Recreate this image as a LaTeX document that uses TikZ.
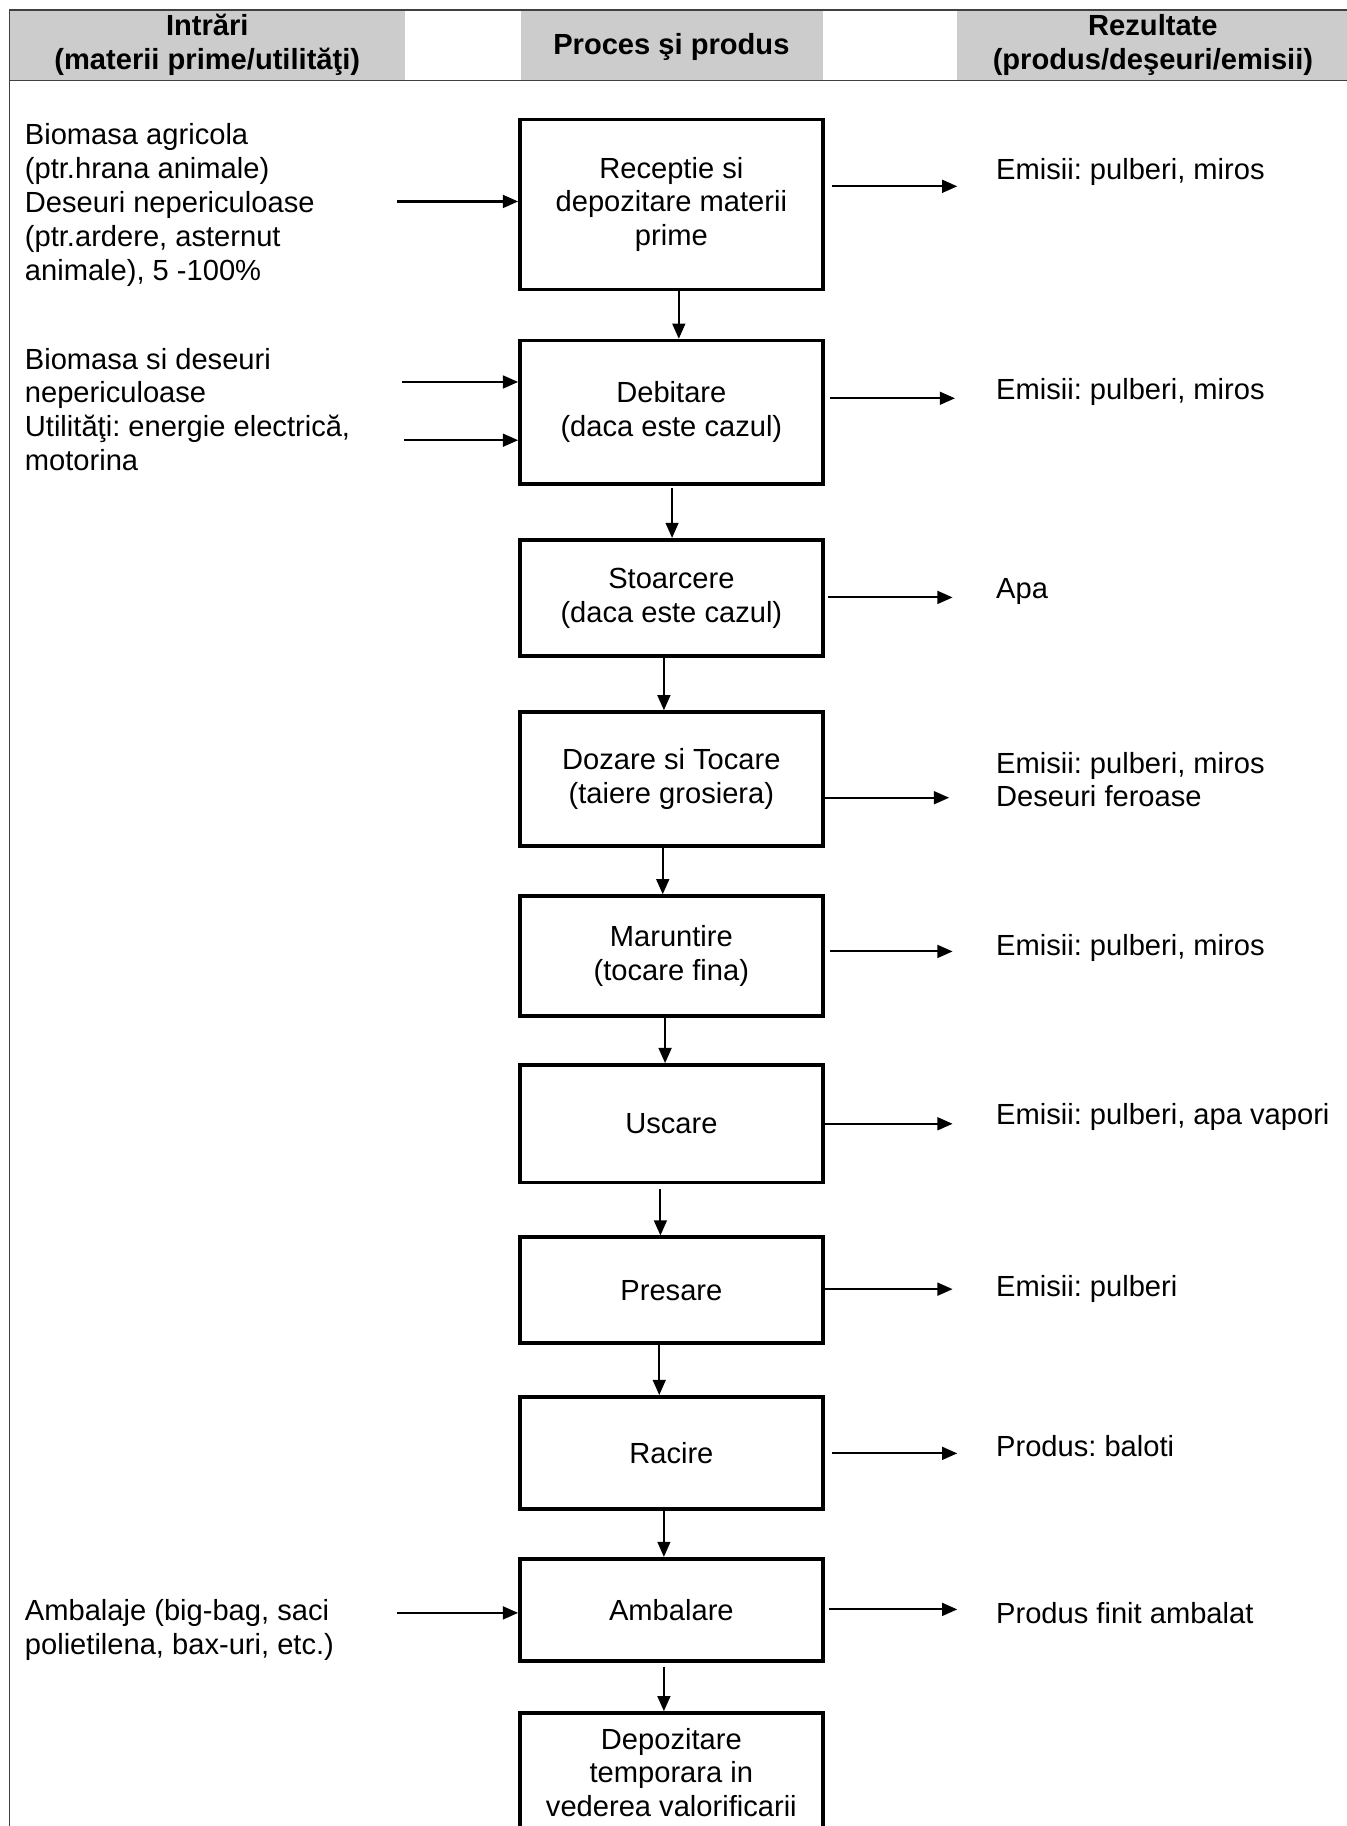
\documentclass[tikz,border=0pt]{standalone}
\usepackage{fontspec}
\setmainfont{Liberation Sans}
\usetikzlibrary{arrows.meta}
\frenchspacing
\newcommand{\flowfont}{\fontsize{12.5}{14.5}\selectfont}
\tikzset{
	procbox/.style={draw, line width=1.6pt, minimum width=130pt, align=center, inner sep=2pt},
	headcell/.style={fill=black!20, draw=none},
	headtext/.style={font=\flowfont\bfseries, align=center, inner sep=0pt},
	sidetext/.style={anchor=west, align=left, inner sep=0pt},
	flow/.style={line width=0.9pt, -{Triangle[length=6.5pt, width=5.5pt]}},
	frameline/.style={line width=0.6pt, color=black!75}
}

\begin{document}
\begin{tikzpicture}[x=0.5pt, y=-0.5pt, font=\flowfont]
		%%%%% HEADER %%%%%
		\useasboundingbox (0, 0) rectangle (1156, 1568);
		
		\fill[headcell] (8, 8.5) rectangle (348, 69);
		\fill[headcell] (447, 8.5) rectangle (707, 69);
		\fill[headcell] (822, 8.5) rectangle (1160, 69);
		\draw[frameline] (1160, 8.5) -- (8, 8.5) -- (8, 1580);
		\draw[frameline] (8, 69) -- (1160, 69);
		
		\node[headtext] (hintrari) at (178, 38.5) {Intrări\\(materii prime/utilităţi)};
		\node[headtext] (hproces) at (576.5, 40) {Proces şi produs};
		\node[headtext] (hrezultate) at (990, 38.5) {Rezultate\\(produs/deşeuri/emisii)};
		
		%%%%% PROCES %%%%%
		\node[procbox, minimum height=73pt] (receptie) at (576.5, 175.5) {Receptie si\\depozitare materii\\prime};
		\node[procbox, minimum height=61.5pt] (debitare) at (576.5, 354) {Debitare\\(daca este cazul)};
		\node[procbox, minimum height=50pt] (stoarcere) at (576.5, 513.5) {Stoarcere\\(daca este cazul)};
		\node[procbox, minimum height=57.5pt] (dozare) at (576.5, 669) {Dozare si Tocare\\(taiere grosiera)};
		\node[procbox, minimum height=51.5pt] (maruntire) at (576.5, 821) {Maruntire\\(tocare fina)};
		\node[procbox, minimum height=50.5pt] (uscare) at (576.5, 965) {Uscare};
		\node[procbox, minimum height=45.5pt] (presare) at (576.5, 1108) {Presare};
		\node[procbox, minimum height=48pt] (racire) at (576.5, 1247.5) {Racire};
		\node[procbox, minimum height=44pt] (ambalare) at (576.5, 1382.5) {Ambalare};
		\node[procbox, minimum height=51pt] (depozitare) at (576.5, 1522) {Depozitare\\temporara in\\vederea valorificarii};
		
		\draw[flow] ([xshift=3.2pt]receptie.south) -- ([xshift=3.2pt]debitare.north);
		\draw[flow] ([xshift=0.3pt]debitare.south) ++(0, 2) -- ([xshift=0.3pt]stoarcere.north);
		\draw[flow] ([xshift=-3.2pt]stoarcere.south) -- ([xshift=-3.2pt]dozare.north);
		\draw[flow] ([xshift=-3.7pt]dozare.south) -- ([xshift=-3.7pt]maruntire.north);
		\draw[flow] ([xshift=-2.7pt]maruntire.south) -- ([xshift=-2.7pt]uscare.north);
		\draw[flow] ([xshift=-4.7pt]uscare.south) ++(0, 4) -- ([xshift=-4.7pt]presare.north);
		\draw[flow] ([xshift=-5.2pt]presare.south) -- ([xshift=-5.2pt]racire.north);
		\draw[flow] ([xshift=-3.2pt]racire.south) -- ([xshift=-3.2pt]ambalare.north);
		\draw[flow] ([xshift=-3.2pt]ambalare.south) ++(0, 3) -- ([xshift=-3.2pt]depozitare.north);
		
		%%%%% INTRARI %%%%%
		\node[sidetext] (intrareceptie) at (21, 176) {Biomasa agricola\\(ptr.hrana animale)\\Deseuri nepericuloase\\(ptr.ardere, asternut\\animale), 5 -100\%};
		\node[sidetext] (intradebitare) at (21, 351.5) {Biomasa si deseuri\\nepericuloase\\Utilităţi: energie electrică,\\motorina};
		\node[sidetext] (intraambalare) at (21, 1399.5) {Ambalaje (big-bag, saci\\polietilena, bax-uri, etc.)};
		
		\coordinate (inreceptie) at (341, 173);
		\coordinate (indebitarea) at (345, 328);
		\coordinate (indebitareb) at (347, 378);
		\coordinate (inambalare) at (341, 1385);
		\draw[flow] (inreceptie) -- (inreceptie -| receptie.west);
		\draw[flow] (indebitarea) -- (indebitarea -| debitare.west);
		\draw[flow] (indebitareb) -- (indebitareb -| debitare.west);
		\draw[flow] (inambalare) -- (inambalare -| ambalare.west);
		
		%%%%% REZULTATE %%%%%
		\node[sidetext] (rezreceptie) at (855, 148) {Emisii: pulberi, miros};
		\node[sidetext] (rezdebitare) at (855, 337) {Emisii: pulberi, miros};
		\node[sidetext] (rezstoarcere) at (855, 508) {Apa};
		\node[sidetext] (rezdozare) at (855, 669.5) {Emisii: pulberi, miros\\Deseuri feroase};
		\node[sidetext] (rezmaruntire) at (855, 814) {Emisii: pulberi, miros};
		\node[sidetext] (rezuscare) at (855, 959) {Emisii: pulberi, apa vapori};
		\node[sidetext] (rezpresare) at (855, 1107) {Emisii: pulberi};
		\node[sidetext] (rezracire) at (855, 1242) {Produs: baloti};
		\node[sidetext] (rezambalare) at (855, 1385) {Produs finit ambalat};
		
		\coordinate (outreceptie) at (822, 160);
		\coordinate (outdebitare) at (820, 342);
		\coordinate (outstoarcere) at (818, 513);
		\coordinate (outdozare) at (815, 685);
		\coordinate (outmaruntire) at (818, 817);
		\coordinate (outuscare) at (818, 965);
		\coordinate (outpresare) at (818, 1107);
		\coordinate (outracire) at (822, 1248);
		\coordinate (outambalare) at (822, 1382);
		\draw[flow, shorten <=3pt] (receptie.east |- outreceptie) -- (outreceptie);
		\draw[flow, shorten <=2.5pt] (debitare.east |- outdebitare) -- (outdebitare);
		\draw[flow, shorten <=1.5pt] (stoarcere.east |- outstoarcere) -- (outstoarcere);
		\draw[flow] (dozare.east |- outdozare) -- (outdozare);
		\draw[flow, shorten <=2.5pt] (maruntire.east |- outmaruntire) -- (outmaruntire);
		\draw[flow] (uscare.east |- outuscare) -- (outuscare);
		\draw[flow] (presare.east |- outpresare) -- (outpresare);
		\draw[flow, shorten <=3pt] (racire.east |- outracire) -- (outracire);
		\draw[flow, shorten <=2pt] (ambalare.east |- outambalare) -- (outambalare);
		
		%%%%% END %%%%%
\end{tikzpicture}
\end{document}
